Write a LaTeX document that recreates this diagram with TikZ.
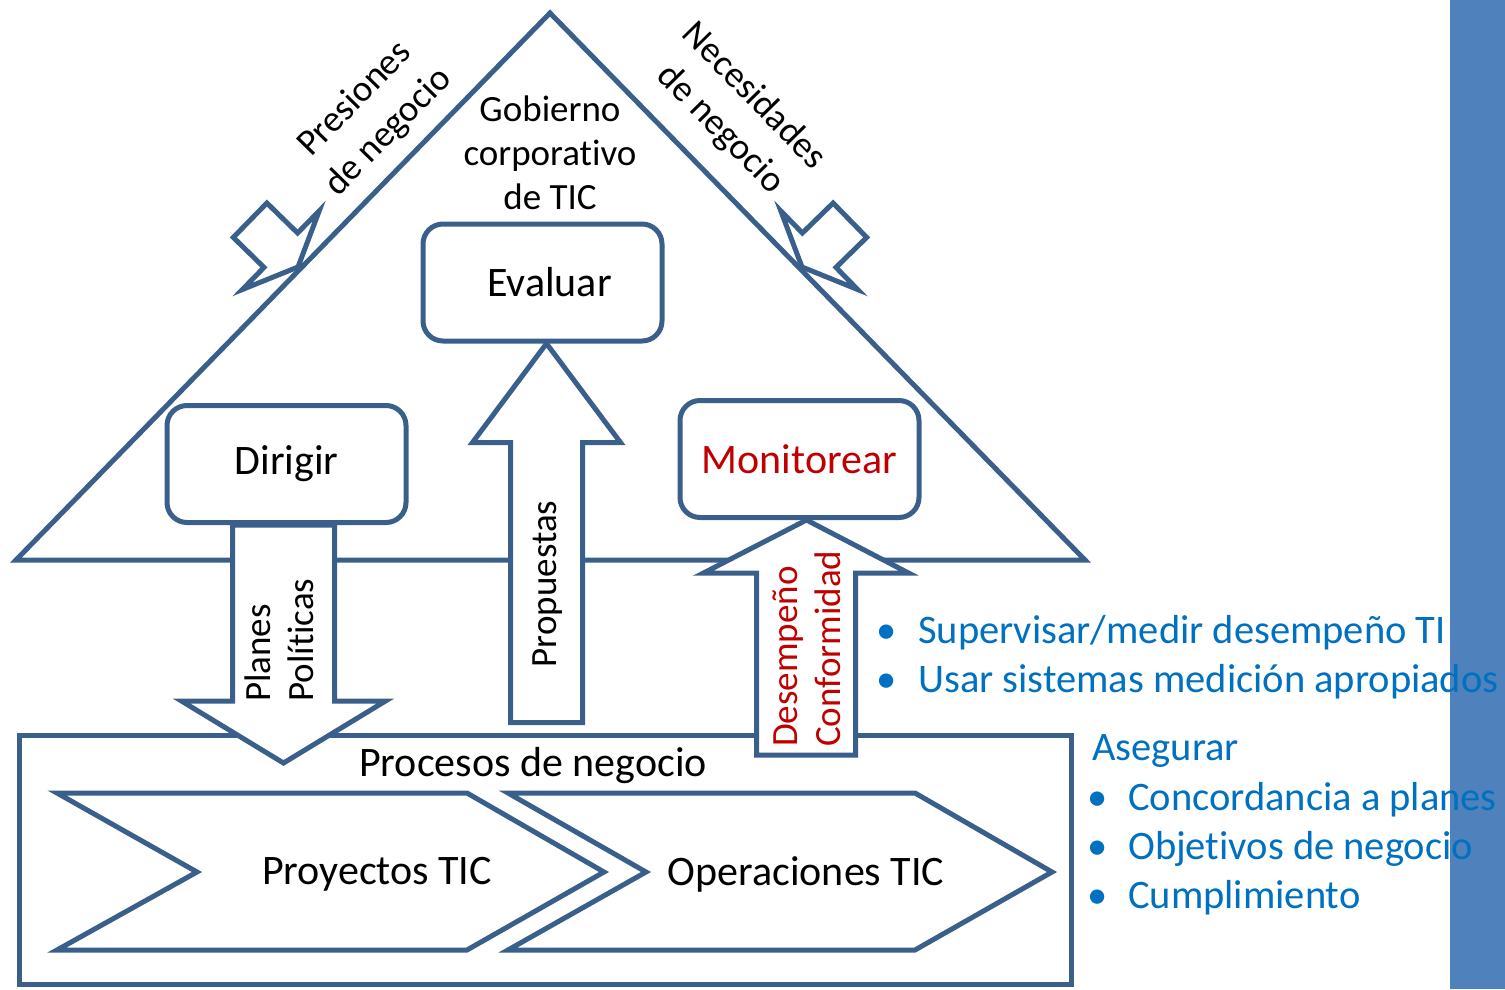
\documentclass[tikz,border=0pt]{standalone}
\usepackage{fontspec}
\setmainfont{Carlito}[Ligatures=NoCommon]
\usetikzlibrary{calc}
\definecolor{ln}{HTML}{3A5F8B}
\definecolor{rd}{HTML}{C00000}
\definecolor{bl}{HTML}{0070C0}
\definecolor{barc}{HTML}{4F81BD}
\pgfdeclarelayer{back}
\pgfdeclarelayer{mid}
\pgfsetlayers{back,mid,main}
\begin{document}
\begin{tikzpicture}[x=1pt,y=-1pt,line join=miter,
  shp/.style={draw=ln,line width=5pt,fill=white},
  boxn/.style={draw=ln,line width=5pt,fill=white,rounded corners=20pt,
    minimum width=239pt,minimum height=117pt,inner sep=0pt,
    font=\fontsize{42}{50}\selectfont},
  lbl/.style={inner sep=0pt,font=\fontsize{42}{50}\selectfont},
  gob/.style={inner sep=0pt,align=center,font=\fontsize{37}{44}\selectfont},
  rot/.style={inner sep=0pt,rotate=90,align=left,font=\fontsize{37}{43}\selectfont},
  diag/.style={inner sep=0pt,align=center,font=\fontsize{37}{47}\selectfont},
  blt/.style={inner sep=0pt,anchor=base west,text=bl,font=\fontsize{40.5}{48}\selectfont},
  dot/.style={inner sep=0pt,anchor=base,text=bl,font=\fontsize{40.5}{48}\selectfont}]
\useasboundingbox (0,0) rectangle (1505,989);

% boxes
\node[boxn] (ev) at (542.5,282.5) {\hspace*{14pt}Evaluar};
\node[boxn] (di) at (286.5,464) {Dirigir};
\node[boxn,text=rd] (mo) at (799.5,459) {Monitorear};

\begin{pgfonlayer}{back}
  \draw[draw=ln,line width=5pt] (16,560) -- (550,13) -- (1085,560) -- cycle;
  \draw[shp] (19,735) rectangle (1071,984);
  \draw[shp] (57,793) -- (467,793) -- (604,872) -- (467,950) -- (57,950) -- (197,872) -- cycle;
  \draw[shp] (508,793) -- (915,793) -- (1052,872) -- (915,950) -- (508,950) -- (646,872) -- cycle;
\end{pgfonlayer}

\node[lbl] (pdn) at (533,766) {Procesos de negocio};
\node[lbl] (pt) at (377,874) {Proyectos TIC};
\node[lbl] (ot) at (806,874) {Operaciones TIC};
\node[gob] (gc) at (550,153) {Gobierno\\corporativo\\de TIC};

\begin{pgfonlayer}{mid}
  % Propuestas arrow (up to Evaluar)
  \draw[shp] ($(ev.south)+(4,0)$) -- ++(74,99) -- ++(-38,0) -- ++(0,280)
     -- ++(-72,0) -- ++(0,-280) -- ++(-38,0) -- cycle;
  % Dirigir arrow (down)
  \draw[shp] ($(di.south)+(-54,0)$) -- ++(0,176) -- ++(-51,0) -- ++(102,62)
     -- ++(102,-62) -- ++(-51,0) -- ++(0,-176) -- cycle;
  % Monitorear arrow (up)
  \draw[shp] ($(mo.south)+(7,0)$) -- ++(102,53) -- ++(-53,0) -- ++(0,182)
     -- ++(-99,0) -- ++(0,-182) -- ++(-53,0) -- cycle;
  % top-left arrow
  \draw[shp] (298,267) -- (319.2,210.9) -- (297.6,233) -- (266.9,203)
     -- (233.3,237.4) -- (264,267.4) -- (242.4,289.5) -- cycle;
  % top-right arrow
  \draw[shp] (802,267) -- (780.8,210.9) -- (802.4,233) -- (833.1,203)
     -- (866.7,237.4) -- (836,267.4) -- (857.6,289.5) -- cycle;
\end{pgfonlayer}

\node[rot] (pr) at (548,584) {Propuestas};
\node[rot,anchor=west] (pl) at (279,702) {Planes\\Políticas};
\node[rot,anchor=west,text=rd] (dc) at (807,747) {Desempeño\\Conformidad};

\node[diag,rotate=45.6] (pn) at (372,116) {Presiones\\de negocio};
\node[diag,rotate=-45.6] (nn) at (737,113) {Necesidades\\de negocio};

% right bar
\fill[barc] (1450,0) rectangle (1505,989);

% blue texts
\node[dot] (b1) at (887,643) {•};
\node[blt] (t1) at (918,643) {Supervisar/medir desempeño TI};
\node[dot] (b2) at (887,692) {•};
\node[blt] (t2) at (918,692) {Usar sistemas medición apropiados};
\node[blt] (as) at (1092,760) {Asegurar};
\node[dot] (b3) at (1098,810) {•};
\node[blt] (t3) at (1128,810) {Concordancia a planes};
\node[dot] (b4) at (1098,859) {•};
\node[blt] (t4) at (1128,859) {Objetivos de negocio};
\node[dot] (b5) at (1098,908) {•};
\node[blt] (t5) at (1128,908) {Cumplimiento};
\end{tikzpicture}
\end{document}
